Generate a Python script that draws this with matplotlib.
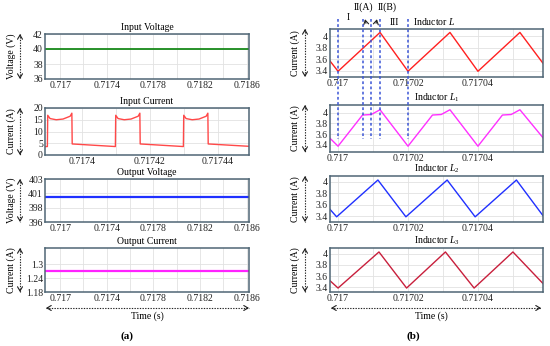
import matplotlib
matplotlib.use('Agg')
import matplotlib.pyplot as plt
from matplotlib import transforms
from matplotlib.lines import Line2D
from matplotlib.patches import FancyArrowPatch

plt.rcParams['font.family'] = ['Liberation Serif', 'DejaVu Serif']
plt.rcParams['mathtext.fontset'] = 'custom'
plt.rcParams['mathtext.rm'] = 'Liberation Serif'
plt.rcParams['mathtext.it'] = 'Liberation Serif:italic'

# ---------------- data ----------------
# (a) left column
slow_t = [0.71687, 0.71862]
vin_v = [40, 40]
vout_v = [400, 400]
iout_v = [1.27, 1.27]

iin_t = [0.7173892, 0.7173899, 0.7173900, 0.7173907, 0.7173925, 0.7173945, 0.7173966, 0.7173971, 0.7173972,
         0.7174099, 0.7174100, 0.7174107, 0.7174125, 0.7174145, 0.7174166, 0.7174171, 0.7174172,
         0.7174299, 0.7174300, 0.7174307, 0.7174325, 0.7174345, 0.7174366, 0.7174371, 0.7174372,
         0.7174492]
iin_v = [3.6, 3.6, 16.9, 15.5, 15.0, 15.3, 16.5, 17.8, 4.7,
         3.6, 16.9, 15.5, 15.0, 15.3, 16.5, 17.8, 4.7,
         3.6, 16.9, 15.5, 15.0, 15.3, 16.5, 17.8, 4.7,
         3.7]

# (b) right column
iL_t = [0.7169977, 0.717, 0.717012, 0.71702, 0.717032, 0.71704, 0.717052, 0.7170586]
iL_v = [3.57, 3.39, 4.07, 3.39, 4.07, 3.39, 4.07, 3.53]

iL1_t = [0.7169977, 0.717, 0.717007, 0.7170095, 0.717012, 0.71702, 0.717027, 0.7170295, 0.717032,
         0.71704, 0.717047, 0.7170495, 0.717052, 0.7170586]
iL1_v = [3.52, 3.37, 3.96, 3.97, 4.06, 3.37, 3.96, 3.97, 4.06, 3.37, 3.96, 3.97, 4.06, 3.53]

iL2_t = [0.7169977, 0.7169996, 0.7170114, 0.7170194, 0.7170312, 0.7170392, 0.717051, 0.7170586]
iL2_v = [3.52, 3.39, 4.03, 3.39, 4.03, 3.39, 4.03, 3.41]

iL3_t = [0.7169977, 0.7170000, 0.7170117, 0.7170196, 0.7170307, 0.7170389, 0.7170500, 0.7170586]
iL3_v = [3.52, 3.39, 4.03, 3.39, 4.03, 3.39, 4.03, 3.47]

interval_t = [0.717, 0.717007, 0.7170095, 0.717012, 0.71702]

# ticks
slow_ticks = [0.717, 0.7174, 0.7178, 0.7182, 0.7186]
slow_ticklabels = ['0.717', '0.7174', '0.7178', '0.7182', '0.7186']
slow_minor = [0.7172, 0.7176, 0.718, 0.7184]
iin_ticks = [0.7174, 0.71742, 0.71744]
iin_ticklabels = ['0.7174', '0.71742', '0.71744']
iin_minor = [0.71741, 0.71743]
fast_ticks = [0.717, 0.71702, 0.71704]
fast_ticklabels = ['0.717', '0.71702', '0.71704']
fast_minor = [0.71701, 0.71703, 0.71705]

# ---------------- figure ----------------
W, H = 550, 346
fig = plt.figure(figsize=(5.5, 3.46), dpi=100)


def fx(x):
    return x / W


def fy(y):
    return 1 - y / H


def add_ax(l, t, r, b):
    return fig.add_axes([l / W, 1 - b / H, (r - l) / W, (b - t) / H])


FRAME = '#4f6675'
GRID = '#e2e2e2'
FS = 7


def style(ax, xlim, xt, xtl, xminor, ylim, yt, ytl, title):
    ax.set_xlim(*xlim)
    ax.set_ylim(*ylim)
    ax.set_xticks(xt)
    ax.set_xticklabels(xtl)
    ax.set_xticks(xminor, minor=True)
    ax.set_yticks(yt)
    ax.set_yticklabels(ytl)
    ax.grid(which='both', axis='x', color=GRID, lw=0.6)
    ax.grid(which='major', axis='y', color=GRID, lw=0.6)
    ax.set_axisbelow(True)
    ax.tick_params(which='both', length=0, labelsize=FS, pad=1.5, colors='#222222')
    for s in ax.spines.values():
        s.set_color(FRAME)
        s.set_linewidth(1.1)
    ax.set_title(title, fontsize=FS, pad=3.2)


def double_arrow(p0, p1):
    # dotted shaft with two arrowheads (pixel coords)
    fig.add_artist(Line2D([fx(p0[0]), fx(p1[0])], [fy(p0[1]), fy(p1[1])],
                          transform=fig.transFigure, color='#222222', lw=0.8,
                          ls=(0, (1.2, 1.2))))
    for a, b in ((p0, p1), (p1, p0)):
        dx = (a[0] - b[0])
        dy = (a[1] - b[1])
        n = (dx ** 2 + dy ** 2) ** 0.5
        s = (a[0] - dx / n * 5, a[1] - dy / n * 5)
        fig.add_artist(FancyArrowPatch((fx(s[0]), fy(s[1])), (fx(a[0]), fy(a[1])),
                                       transform=fig.transFigure, arrowstyle='->,head_length=0.5,head_width=0.3',
                                       mutation_scale=6, lw=0.8, color='#222222'))


def ylab(x_text, x_arrow, top, bot, text):
    fig.text(fx(x_text), fy((top + bot) / 2), text, rotation=90, ha='center', va='center', fontsize=FS)
    double_arrow((x_arrow, top), (x_arrow, bot))


# left column
LL, LR = 45, 249
ax1 = add_ax(LL, 34, LR, 79)
ax1.plot(slow_t, vin_v, color='#17891a', lw=1.3)
style(ax1, (0.71687, 0.71862), slow_ticks, slow_ticklabels, slow_minor,
      (36, 42), [36, 38, 40, 42], ['36', '38', '40', '42'], 'Input Voltage')
ylab(11, 20, 34, 79, 'Voltage (V)')

ax2 = add_ax(LL, 108, LR, 155)
ax2.plot(iin_t, iin_v, color='#ff4848', lw=1.0)
style(ax2, (0.7173892, 0.7174492), iin_ticks, iin_ticklabels, iin_minor,
      (0, 20), [0, 5, 10, 15, 20], ['0', '5', '10', '15', '20'], 'Input Current')
ylab(11, 20, 108, 155, 'Current (A)')

ax3 = add_ax(LL, 179, LR, 222)
ax3.plot(slow_t, vout_v, color='#1f30ff', lw=1.6)
style(ax3, (0.71687, 0.71862), slow_ticks, slow_ticklabels, slow_minor,
      (396, 403), [396, 398.333, 400.667, 403], ['396', '398', '401', '403'], 'Output Voltage')
ylab(11, 20, 179, 222, 'Voltage (V)')

ax4 = add_ax(LL, 248, LR, 292)
ax4.plot(slow_t, iout_v, color='#ff22ff', lw=1.6)
style(ax4, (0.71687, 0.71862), slow_ticks, slow_ticklabels, slow_minor,
      (1.18, 1.37), [1.18, 1.24, 1.3], ['1.18', '1.24', '1.3'], 'Output Current')
ylab(11, 20, 248, 292, 'Current (A)')

double_arrow((46, 308), (249, 308))
fig.text(fx(147), fy(316), 'Time (s)', ha='center', va='center', fontsize=FS)
fig.text(fx(127), fy(336), '(a)', ha='center', va='center', fontsize=8, fontweight='bold')

# right column
RL, RR = 330, 543
fast_xlim = (0.7169977, 0.7170586)
ycur = [3.4, 3.6, 3.8, 4.0]
ycurl = ['3.4', '3.6', '3.8', '4']

b1 = add_ax(RL, 29, RR, 77)
b1.plot(iL_t, iL_v, color='#ff2020', lw=1.0)
style(b1, fast_xlim, fast_ticks, fast_ticklabels, fast_minor, (3.29, 4.13), ycur, ycurl, 'Inductor $L$')
b1.title.set_position((0.49, 1.0))
ylab(295, 305, 29, 77, 'Current (A)')

b2 = add_ax(RL, 105, RR, 152)
b2.plot(iL1_t, iL1_v, color='#ff30ff', lw=1.0)
style(b2, fast_xlim, fast_ticks, fast_ticklabels, fast_minor, (3.26, 4.15), ycur, ycurl, 'Inductor $L_1$')
ylab(295, 305, 105, 152, 'Current (A)')

b3 = add_ax(RL, 176, RR, 222)
b3.plot(iL2_t, iL2_v, color='#2030ff', lw=1.0)
style(b3, fast_xlim, fast_ticks, fast_ticklabels, fast_minor, (3.30, 4.10), ycur, ycurl, 'Inductor $L_2$')
ylab(295, 305, 176, 222, 'Current (A)')

b4 = add_ax(RL, 248, RR, 292)
b4.plot(iL3_t, iL3_v, color='#c81f3c', lw=1.0)
style(b4, fast_xlim, fast_ticks, fast_ticklabels, fast_minor, (3.32, 4.10), ycur, ycurl, 'Inductor $L_3$')
ylab(295, 305, 248, 292, 'Current (A)')

double_arrow((331, 308), (541, 308))
fig.text(fx(431), fy(316), 'Time (s)', ha='center', va='center', fontsize=FS)
fig.text(fx(413), fy(336), '(b)', ha='center', va='center', fontsize=8, fontweight='bold')

# interval markers
blend = transforms.blended_transform_factory(b1.transData, fig.transFigure)
for t in interval_t:
    fig.add_artist(Line2D([t, t], [fy(19), fy(139)], transform=blend, color='#3b55d6',
                          lw=1.1, ls=(0, (1.8, 1.6)), zorder=5))

fig.text(fx(348), fy(18), 'I', ha='center', va='center', fontsize=FS)
fig.text(fx(363), fy(7), 'II(A)', ha='center', va='center', fontsize=FS)
fig.text(fx(387), fy(7), 'II(B)', ha='center', va='center', fontsize=FS)
fig.text(fx(394), fy(22.5), 'III', ha='center', va='center', fontsize=FS)
for (x0, y0), (x1, y1) in (((366.5, 26), (364.5, 16.5)), ((375.5, 26), (377.5, 16.5))):
    fig.add_artist(FancyArrowPatch((fx(x0), fy(y0)), (fx(x1), fy(y1)), transform=fig.transFigure,
                                   arrowstyle='->,head_length=0.5,head_width=0.3', mutation_scale=6,
                                   lw=0.8, color='#222222'))

fig.savefig('out.png', dpi=100)
